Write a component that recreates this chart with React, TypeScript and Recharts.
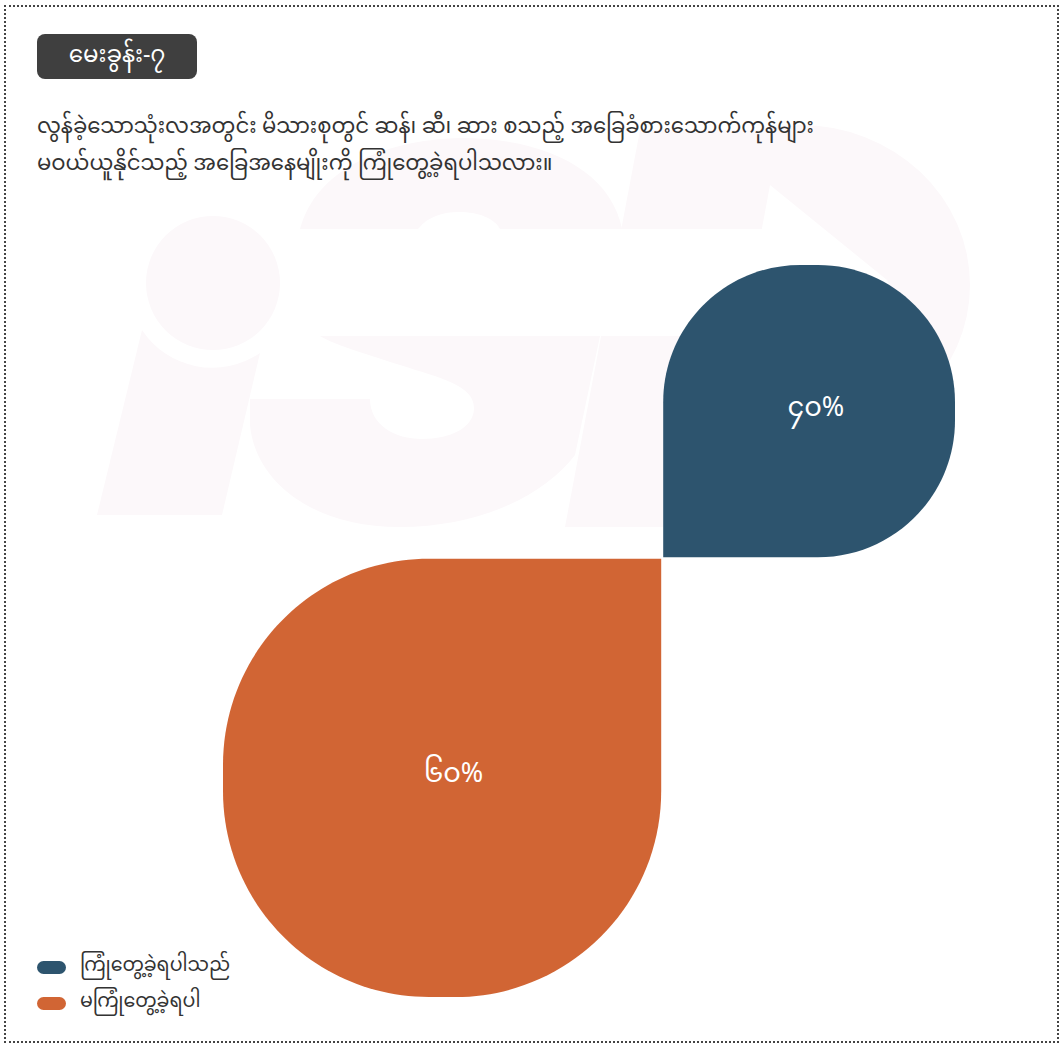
import React from 'react';
import { ScatterChart, XAxis, YAxis, ReferenceArea } from 'recharts';

// survey answer categories and their shares (%)
const categories = ['ကြုံတွေ့ခဲ့ရပါသည်', 'မကြုံတွေ့ခဲ့ရပါ'];
const values = [40, 60];
const valueLabels = ['၄၀%', '၆၀%'];
const colors = ['#2d546e', '#d16534'];

const questionTitle = 'မေးခွန်း-၇';
const questionLines = [
  'လွန်ခဲ့သောသုံးလအတွင်း မိသားစုတွင် ဆန်၊ ဆီ၊ ဆား စသည့် အခြေခံစားသောက်ကုန်များ',
  'မဝယ်ယူနိုင်သည့် အခြေအနေမျိုးကို ကြုံတွေ့ခဲ့ရပါသလား။',
];

const FONT = '"Noto Sans Myanmar", "Padauk", "Myanmar Text", "Noto Sans", sans-serif';
const PX_PER_UNIT = 7.32;
const CHART_SIZE = (values[0] + values[1]) * PX_PER_UNIT;
const WM = '#fcf8fa';

// rounded rect, one corner kept sharp (the one touching the centre)
const petalPath = (x: number, y: number, w: number, h: number, sharp: 'bl' | 'tr') => {
  const r = 0.47 * Math.min(w, h);
  const k = 0.5523;
  const tl = r;
  const tr = sharp === 'tr' ? 0 : r;
  const br = r;
  const bl = sharp === 'bl' ? 0 : r;
  return [
    `M${x + tl},${y}`,
    `L${x + w - tr},${y}`,
    `C${x + w - tr + k * tr},${y} ${x + w},${y + tr - k * tr} ${x + w},${y + tr}`,
    `L${x + w},${y + h - br}`,
    `C${x + w},${y + h - br + k * br} ${x + w - br + k * br},${y + h} ${x + w - br},${y + h}`,
    `L${x + bl},${y + h}`,
    `C${x + bl - k * bl},${y + h} ${x},${y + h - bl + k * bl} ${x},${y + h - bl}`,
    `L${x},${y + tl}`,
    `C${x},${y + tl - k * tl} ${x + tl - k * tl},${y} ${x + tl},${y}`,
    'Z',
  ].join(' ');
};

const Petal = (props: any) => {
  const { x, y, width, height, index } = props;
  const sharp = index === 0 ? 'bl' : 'tr';
  // leave a hairline gap at the centre
  let px = x, py = y, pw = width, ph = height;
  if (sharp === 'bl') { px += 1; pw -= 1; ph -= 0.5; }
  else { pw -= 1; py += 1; ph -= 1; }
  const lx = x + width / 2 + width * 0.025;
  const ly = y + height / 2 - height * 0.005;
  return (
    <g>
      <path d={petalPath(px, py, pw, ph, sharp)} fill={colors[index]} />
      <text
        x={lx}
        y={ly}
        textAnchor="middle"
        dominantBaseline="central"
        fill="#ffffff"
        fontSize={27}
        fontFamily={FONT}
      >
        {valueLabels[index]}
      </text>
    </g>
  );
};

// very faint "isp" logo behind everything
const Watermark = () => (
  <svg width={1064} height={1047} style={{ position: 'absolute', left: 0, top: 0 }}>
    {/* p */}
    <ellipse cx={800} cy={285} rx={170} ry={160} fill={WM} />
    <path d="M640,130 L780,130 L705,527 L565,527 Z" fill={WM} />
    <path d="M770,185 L887,280 L960,420 L730,420 L742,336 Z" fill="#ffffff" />
    {/* s */}
    <path d="M300,229 C315,172 380,140 460,138 C545,138 610,170 622,229 Z" fill={WM} />
    <path d="M418,229 C428,216 444,212 459,212 C478,212 494,218 500,229 Z" fill="#ffffff" />
    <path
      d="M320,336 L600,336 L575,455 C545,495 480,527 400,527 C310,527 255,480 250,425 L250,399 L370,399
         C370,425 395,439 422,439 C450,439 474,428 474,408 C474,385 440,378 400,365 C360,352 335,345 320,336 Z"
      fill={WM}
    />
    <rect x={290} y={229} width={500} height={107} fill="#ffffff" />
    {/* i */}
    <circle cx={213} cy={283} r={67} fill={WM} />
    <path d="M142,330 A85,85 0 0 0 260,353 L222,515 L97,515 Z" fill={WM} />
  </svg>
);

export default function App() {
  const xMin = -values[1];
  const xMax = values[0];

  return (
    <div
      style={{
        position: 'absolute',
        left: 0,
        top: 0,
        width: 1064,
        height: 1047,
        background: '#ffffff',
        fontFamily: FONT,
        overflow: 'hidden',
      }}
    >
      <Watermark />

      <div
        style={{
          position: 'absolute',
          left: 4,
          top: 5,
          width: 1051,
          height: 1034,
          border: '2px dotted #444',
        }}
      />

      <div
        style={{
          position: 'absolute',
          left: 37,
          top: 34,
          width: 160,
          height: 45,
          background: '#3f3f3f',
          borderRadius: 8,
          color: '#ffffff',
          fontSize: 23,
          display: 'flex',
          alignItems: 'center',
          justifyContent: 'center',
        }}
      >
        {questionTitle}
      </div>

      {questionLines.map((l, i) => (
        <div
          key={l}
          style={{
            position: 'absolute',
            left: 37,
            top: 110 + i * 37,
            fontSize: 21.2,
            lineHeight: '36px',
            color: '#333333',
            whiteSpace: 'nowrap',
          }}
        >
          {l}
        </div>
      ))}

      <div style={{ position: 'absolute', left: 223, top: 265 }}>
        <ScatterChart
          width={CHART_SIZE}
          height={CHART_SIZE}
          margin={{ top: 0, right: 0, bottom: 0, left: 0 }}
        >
          <XAxis type="number" dataKey="x" domain={[xMin, xMax]} hide allowDataOverflow />
          <YAxis type="number" dataKey="y" domain={[xMin, xMax]} hide allowDataOverflow />
          {values.map((v, i) => {
            const s = i === 0 ? 1 : -1;
            return (
              <ReferenceArea
                key={categories[i]}
                x1={0}
                x2={s * v}
                y1={0}
                y2={s * v}
                ifOverflow="visible"
                shape={(p: any) => <Petal {...p} index={i} />}
              />
            );
          })}
        </ScatterChart>
      </div>

      {categories.map((c, i) => (
        <div
          key={c}
          style={{
            position: 'absolute',
            left: 37,
            top: 952 + i * 36,
            display: 'flex',
            alignItems: 'center',
            height: 30,
          }}
        >
          <div
            style={{
              width: 29,
              height: 13,
              borderRadius: 7,
              background: colors[i],
              marginRight: 14,
            }}
          />
          <span style={{ fontSize: 19, lineHeight: '30px', color: '#333333' }}>{c}</span>
        </div>
      ))}
    </div>
  );
}
